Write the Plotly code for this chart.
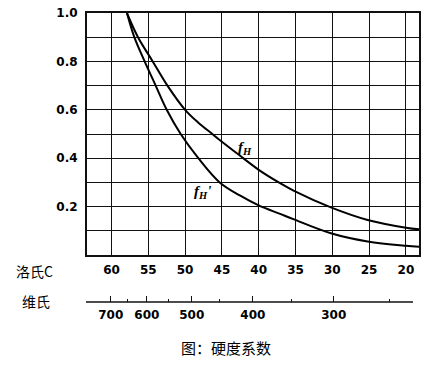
import plotly.graph_objects as go

# Hardness (Rockwell C) vs factor curves
hrc_fh = [57.9, 56.4, 54.4, 52.4, 50.0, 48.2, 46.3, 45.0, 42.7, 40.0, 37.1, 35.2, 30.2, 25.2, 20.0, 18.2]
fh = [1.0, 0.9, 0.8, 0.7, 0.6, 0.547, 0.5, 0.468, 0.414, 0.352, 0.297, 0.265, 0.197, 0.145, 0.113, 0.106]

hrc_fh2 = [57.9, 56.9, 55.5, 54.0, 52.5, 50.6, 48.2, 45.3, 42.5, 40.0, 37.1, 35.2, 30.2, 25.2, 20.0, 18.2]
fh2 = [1.0, 0.9, 0.8, 0.7, 0.6, 0.5, 0.4, 0.3, 0.245, 0.205, 0.17, 0.147, 0.09, 0.056, 0.038, 0.034]

# Rockwell C ticks
hrc_ticks = [60, 55, 50, 45, 40, 35, 30, 25, 20]
# Vickers scale ticks and their Rockwell C equivalents
hv_major = [700, 600, 500, 400, 300]
hv_major_hrc = [60.1, 55.2, 49.1, 40.8, 29.8]
hv_minor = [650, 550, 450, 350, 250]
hv_minor_hrc = [57.8, 52.3, 45.3, 35.5, 22.2]

y_ticks = [0.0, 0.1, 0.2, 0.3, 0.4, 0.5, 0.6, 0.7, 0.8, 0.9, 1.0]
y_labels = ["", "", "0.2", "", "0.4", "", "0.6", "", "0.8", "", "1.0"]

x_range = [63.33, 18.22]

tick_font = dict(family="DejaVu Sans", size=12, color="black", weight="bold")
cjk = "Noto Sans CJK SC"

W, H = 431, 366
ML, MR, MT, MB = 87, 12, 13, 64

fig = go.Figure()
fig.add_trace(go.Scatter(x=hrc_fh, y=fh, mode="lines",
                         line=dict(color="black", width=2, shape="spline", smoothing=1.0),
                         showlegend=False, hoverinfo="skip"))
fig.add_trace(go.Scatter(x=hrc_fh2, y=fh2, mode="lines",
                         line=dict(color="black", width=2, shape="spline", smoothing=1.0),
                         showlegend=False, hoverinfo="skip"))
# invisible trace to attach the Vickers scale axis
fig.add_trace(go.Scatter(x=hv_major_hrc, y=[None] * len(hv_major_hrc), xaxis="x2", yaxis="y",
                         mode="markers", marker=dict(opacity=0), showlegend=False, hoverinfo="skip"))

fig.update_layout(
    width=W, height=H,
    margin=dict(l=ML, r=MR, t=MT, b=MB, autoexpand=False),
    paper_bgcolor="white", plot_bgcolor="white",
    showlegend=False,
    xaxis=dict(range=x_range, tickmode="array", tickvals=hrc_ticks,
               ticktext=[str(v) for v in hrc_ticks], automargin=False,
               showgrid=True, gridcolor="#111", gridwidth=1.4,
               showline=True, linecolor="#111", linewidth=2, mirror=True,
               ticks="", ticklabelstandoff=3, tickfont=tick_font, zeroline=False,
               anchor="y"),
    yaxis=dict(range=[0, 1], domain=[0.1626, 1], tickmode="array", tickvals=y_ticks,
               ticktext=y_labels, showgrid=True, gridcolor="#111", gridwidth=1.4,
               showline=True, linecolor="#111", linewidth=2, mirror=True, automargin=False,
               ticks="", ticklabelstandoff=5, tickfont=tick_font, zeroline=False,
               ticklabeloverflow="allow"),
    xaxis2=dict(range=x_range, overlaying="x", anchor="free", position=0, automargin=False,
                tickmode="array", tickvals=hv_major_hrc, ticktext=[str(v) for v in hv_major],
                showgrid=False, showline=False,
                ticks="inside", ticklen=6, tickwidth=1.3, tickcolor="#111",
                minor=dict(tickmode="array", tickvals=hv_minor_hrc, ticks="inside",
                           ticklen=3, tickwidth=1.3, tickcolor="#111", showgrid=False),
                ticklabelstandoff=4, tickfont=tick_font, zeroline=False),
    shapes=[dict(type="line", xref="paper", yref="paper", x0=-0.003, x1=0.982, y0=0, y1=0,
                 line=dict(color="#111", width=1.5))],
)

ann = [
    dict(x=41.86, y=0.442, xref="x", yref="y",
         text="<b><i>f<sub>H</sub></i></b>", showarrow=False,
         font=dict(family="Liberation Serif", size=15, color="black")),
    dict(x=47.57, y=0.26, xref="x", yref="y",
         text="<b><i>f<sub>H</sub>'</i></b>", showarrow=False,
         font=dict(family="Liberation Serif", size=15, color="black")),
    dict(x=34, y=271, xref="paper", yref="paper", text="洛氏C", showarrow=False,
         font=dict(family=cjk, size=14, color="black")),
    dict(x=36, y=301, xref="paper", yref="paper", text="维氏", showarrow=False,
         font=dict(family=cjk, size=14, color="black")),
    dict(x=226, y=347, xref="paper", yref="paper", text="图：硬度系数", showarrow=False,
         font=dict(family=cjk, size=15, color="black")),
]
# convert pixel positions of the free texts to paper coordinates
plot_w = W - ML - MR
plot_h = H - MT - MB
for a in ann:
    if a["xref"] == "paper":
        a["x"] = (a["x"] - ML) / plot_w
        a["y"] = (H - MB - a["y"]) / plot_h
        a["xanchor"] = "center"
        a["yanchor"] = "middle"
fig.update_layout(annotations=ann)

# remove the default page margin so the figure sits at the window's corner
fig.write_html("out.html", config={"displayModeBar": False},
               post_script="document.body.style.margin='0px';document.body.style.overflow='hidden';")
